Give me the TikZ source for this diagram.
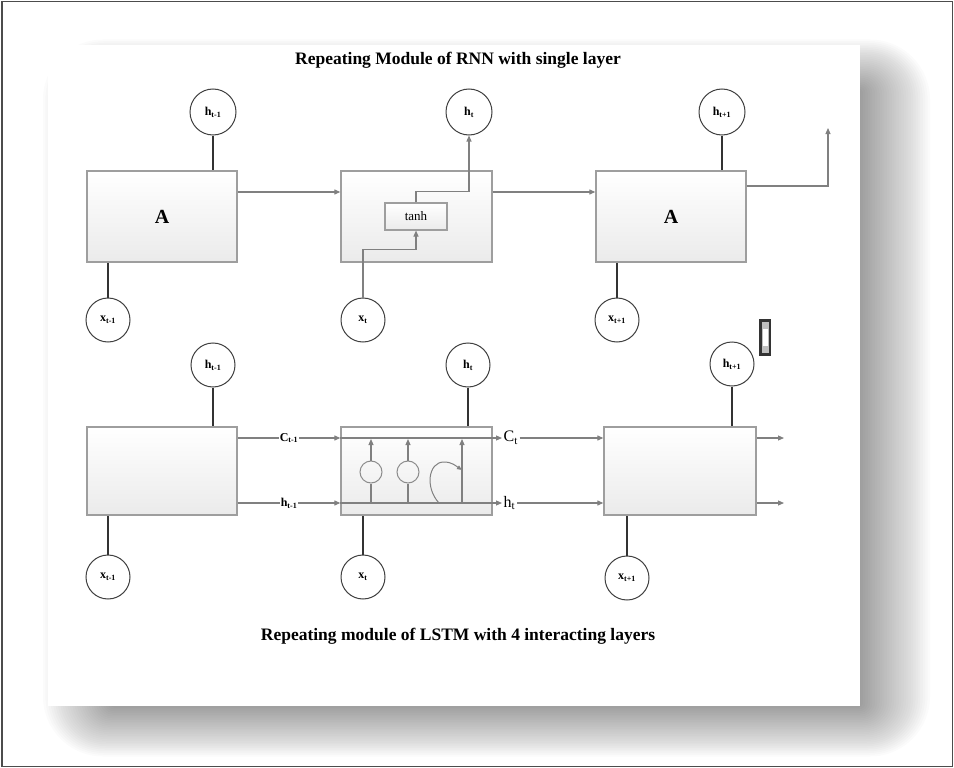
\documentclass[tikz,border=0pt]{standalone}
\usepackage{fontspec}
\setmainfont{Liberation Serif}
\usetikzlibrary{arrows.meta}
\newcommand\lbl[2]{#1\textsubscript{#2}}
\begin{document}
\begin{tikzpicture}[x=1pt,y=-1pt,
  cell/.style={draw=black!38, line width=1.3pt, top color=white, bottom color=black!8, inner sep=0pt},
  io/.style={circle, draw=black!75, line width=1pt, fill=white, inner sep=0pt, font=\fontsize{12}{12}\selectfont\bfseries},
  link/.style={draw=black!80, line width=2pt},
  flowline/.style={draw=black!50, line width=1.1pt},
  flow/.style={flowline, -{Triangle[length=6pt,width=5pt]}},
  mid/.style={fill=white, inner sep=1pt, font=\fontsize{12}{12}\selectfont\bfseries},
  outl/.style={inner sep=1.5pt, font=\fontsize{16}{16}\selectfont},
  gate/.style={circle, draw=black!45, line width=1pt, minimum size=22pt, inner sep=0pt},
  ttl/.style={font=\fontsize{17.5}{20}\selectfont\bfseries, inner sep=0pt}]
\useasboundingbox (0,0) rectangle (954,768);
% soft shadow and card
\foreach \k in {0,...,30}
  \fill[black, opacity=0.0165, rounded corners=\k*2pt]
    (115-\k*2.4,92-\k*1.75) rectangle (858+\k*2.4,704+\k*1.75);
\fill[white] (48,45) rectangle (860,706);
\draw[black!70, line width=1.2pt] (2,1.5) rectangle (952.5,766.5);
% titles
\node[ttl] (t1) at (458,60) {Repeating Module of RNN with single layer};
\node[ttl] (t2) at (458,636) {Repeating module of LSTM with 4 interacting layers};
% ---------- top row ----------
\node[cell, minimum width=150pt, minimum height=91pt, font=\fontsize{20}{20}\selectfont\bfseries] (A1) at (162,216.5) {A};
\node[cell, minimum width=151pt, minimum height=91pt] (B2) at (416.5,216.5) {};
\node[cell, minimum width=150pt, minimum height=91pt, font=\fontsize{20}{20}\selectfont\bfseries] (A3) at (671,216.5) {A};
\node[cell, minimum width=62pt, minimum height=27pt, line width=1.1pt, font=\fontsize{13}{13}\selectfont] (T) at (416,216.5) {tanh};
\node[io, minimum size=46pt] (h1) at (213,112) {\lbl{h}{t-1}};
\node[io, minimum size=46pt] (h2) at (469,112) {\lbl{h}{t}};
\node[io, minimum size=46pt] (h3) at (722,112) {\lbl{h}{t+1}};
\node[io, minimum size=44pt] (x1) at (108,320) {\lbl{x}{t-1}};
\node[io, minimum size=44pt] (x2) at (363,320) {\lbl{x}{t}};
\node[io, minimum size=44pt] (x3) at (617,320) {\lbl{x}{t+1}};
\draw[link] (h1) -- (h1 |- A1.north);
\draw[link] (h3) -- (h3 |- A3.north);
\draw[link] (x1) -- (x1 |- A1.south);
\draw[link] (x3) -- (x3 |- A3.south);
\draw[flow] ([yshift=24.5pt]A1.east) -- ([yshift=24.5pt]B2.west);
\draw[flow] ([yshift=24.5pt]B2.east) -- ([yshift=24.5pt]A3.west);
\draw[flow] (T.north) -- ++(0,-11) -| (h2.south);
\draw[flow] (x2.north) -- ++(0,-48) -| (T.south);
\coordinate (o1) at (828,128);
\draw[flow] ([yshift=30.5pt]A3.east) -| (o1);
% scroll widget
\fill[black!80] (759,319) rectangle (771,356);
\fill[black!25] (761.5,322) rectangle (768.5,353);
\fill[white] (762.5,329) rectangle (767.5,346);
% ---------- bottom row ----------
\node[cell, minimum width=150pt, minimum height=88pt] (C4) at (162,471) {};
\node[cell, minimum width=151pt, minimum height=88pt] (L5) at (416.5,471) {};
\node[cell, minimum width=152pt, minimum height=88pt] (C6) at (680,471) {};
\node[io, minimum size=44pt] (h4) at (213,365) {\lbl{h}{t-1}};
\node[io, minimum size=44pt] (h5) at (468,365) {\lbl{h}{t}};
\node[io, minimum size=44pt] (h6) at (732,364) {\lbl{h}{t+1}};
\node[io, minimum size=44pt] (x4) at (108,577) {\lbl{x}{t-1}};
\node[io, minimum size=44pt] (x5) at (363,577) {\lbl{x}{t}};
\node[io, minimum size=44pt] (x6) at (627,578) {\lbl{x}{t+1}};
\draw[link] (h4) -- (h4 |- C4.north);
\draw[link] (h5) -- (h5 |- L5.north);
\draw[link] (h6) -- (h6 |- C6.north);
\draw[link] (x4) -- (x4 |- C4.south);
\draw[link] (x5) -- (x5 |- L5.south);
\draw[link] (x6) -- (x6 |- C6.south);
\draw[flow] ([yshift=33pt]C4.east) -- node[mid]{\lbl{C}{t-1}} ([yshift=33pt]L5.west);
\draw[flow] ([yshift=-32pt]C4.east) -- node[mid]{\lbl{h}{t-1}} ([yshift=-32pt]L5.west);
\coordinate (cy) at ([yshift=33pt]L5.west);
\coordinate (hy) at ([yshift=-32pt]L5.west);
\node[outl, anchor=west] (Ct) at (502,438) {\lbl{C}{t}};
\node[outl, anchor=west] (Ht) at (502,503) {\lbl{h}{t}};
\draw[flow] (cy) -- (Ct.west);
\draw[flow] (hy) -- (Ht.west);
\draw[flow] (Ct.east) -- ([yshift=33pt]C6.west);
\draw[flow] (Ht.east) -- ([yshift=-32pt]C6.west);
% gates inside LSTM cell
\node[gate] (s1) at (371,472) {};
\node[gate] (s2) at (408,472) {};
\coordinate (g3) at (462,470);
\draw[flowline] (s1 |- hy) -- (s1.south);
\draw[flowline] (s2 |- hy) -- (s2.south);
\draw[flow, shorten >=1pt] (s1.north) -- (s1 |- cy);
\draw[flow, shorten >=1pt] (s2.north) -- (s2 |- cy);
\draw[flow, shorten >=1pt] (g3 |- hy) -- (g3 |- cy);
\coordinate (k0) at (439,503);
\draw[flowline, line width=1pt, -{Triangle[length=5pt,width=4pt]}] (k0) .. controls (425,488) and (428,462) .. (444,462) .. controls (452,462) and (456,466) .. (g3);
% outputs of last LSTM cell
\coordinate (oc) at (784,438);
\coordinate (oh) at (784,503);
\draw[flow] ([yshift=33pt]C6.east) -- (oc);
\draw[flow] ([yshift=-32pt]C6.east) -- (oh);
\end{tikzpicture}
\end{document}
